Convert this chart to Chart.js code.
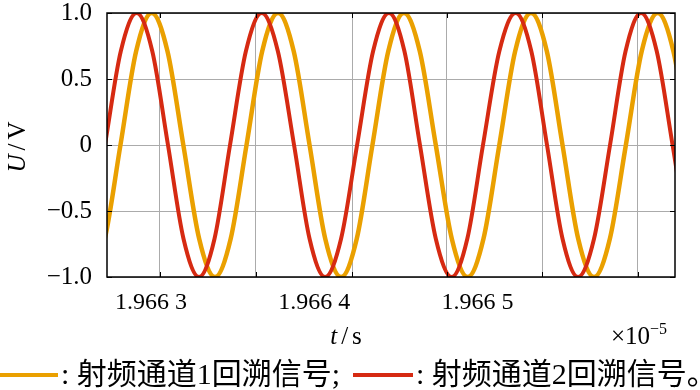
<!DOCTYPE html>
<html>
<head>
<meta charset="utf-8">
<script src="https://cdn.jsdelivr.net/npm/chart.js@4.4.1/dist/chart.umd.min.js"></script>
<style>
  html, body { margin: 0; padding: 0; background: #fff; }
  #wrap { position: relative; width: 700px; height: 390px; }
</style>
</head>
<body>
<div id="wrap"><canvas id="grafico" width="700" height="390"></canvas></div>
<script>
// time in ns after 19.663 us (axis shows x 10^-5 s)
const ch1Time = [-0.380, -0.283, -0.187, -0.091, 0.004, 0.101, 0.198, 0.295, 0.392, 0.488,
  0.585, 0.681, 0.778, 0.874, 0.971, 1.067, 1.164, 1.260, 1.356, 1.453,
  1.549, 1.646, 1.744, 1.842, 1.939, 2.036, 2.133, 2.230, 2.327, 2.424,
  2.520, 2.616, 2.713, 2.810, 2.908, 3.005, 3.103, 3.199, 3.296];
const ch1Volt = [-1, -0.71, 0, 0.71, 1, 0.71, 0, -0.71, -1, -0.71,
  0, 0.71, 1, 0.71, 0, -0.71, -1, -0.71, 0, 0.71,
  1, 0.71, 0, -0.71, -1, -0.71, 0, 0.71, 1, 0.71,
  0, -0.71, -1, -0.71, 0, 0.71, 1, 0.71, 0];

const ch2Time = [-0.478, -0.381, -0.282, -0.185, -0.088, 0.008, 0.104, 0.199, 0.294, 0.389,
  0.484, 0.581, 0.678, 0.777, 0.876, 0.971, 1.066, 1.164, 1.262, 1.360,
  1.457, 1.552, 1.647, 1.744, 1.841, 1.937, 2.033, 2.133, 2.233, 2.329,
  2.425, 2.520, 2.615, 2.713, 2.811, 2.906, 3.001, 3.097, 3.194, 3.290, 3.387];
const ch2Volt = [-1, -0.71, 0, 0.71, 1, 0.71, 0, -0.71, -1, -0.71,
  0, 0.71, 1, 0.71, 0, -0.71, -1, -0.71, 0, 0.71,
  1, 0.71, 0, -0.71, -1, -0.71, 0, 0.71, 1, 0.71,
  0, -0.71, -1, -0.71, 0, 0.71, 1, 0.71, 0, -0.71, -1];

const xMin = -0.2694;
const xMax = 3.2088;
const gridTimes = [0.0551, 0.643, 1.2309, 1.8126, 2.3944, 2.9822];
const xTickTimes = [0, 1, 2];
const xTickLabels = ['1.966 3', '1.966 4', '1.966 5'];
const yTicks = [-1, -0.5, 0, 0.5, 1];
const yTickLabels = ['\u22121.0', '\u22120.5', '0', '0.5', '1.0'];
const seriesNames = [': 射频通道1回溯信号;', ': 射频通道2回溯信号。'];

const corLaranja = 'rgb(234, 160, 0)';
const corVermelho = 'rgb(214, 42, 18)';
const serif = '"Liberation Serif", "Noto Sans CJK SC"';

function pontos(ts, vs) {
    return ts.map((t, i) => ({ x: t, y: vs[i] }));
}

function semPadding(axis) {
    axis.paddingTop = 0;
    axis.paddingBottom = 0;
    axis.paddingLeft = 0;
    axis.paddingRight = 0;
}

// moldura, marcas internas e textos
const extras = {
    id: 'extras',
    afterDatasetsDraw(chart) {
        const ctx = chart.ctx;
        const a = chart.chartArea;
        const sx = chart.scales.x, sy = chart.scales.y;
        ctx.save();
        ctx.strokeStyle = '#000';
        ctx.lineWidth = 1.5;
        ctx.strokeRect(a.left, a.top, a.right - a.left, a.bottom - a.top);
        ctx.lineWidth = 1;
        ctx.beginPath();
        gridTimes.forEach(t => {
            const px = Math.round(sx.getPixelForValue(t)) + 0.5;
            ctx.moveTo(px, a.top); ctx.lineTo(px, a.top + 5);
            ctx.moveTo(px, a.bottom); ctx.lineTo(px, a.bottom - 5);
        });
        yTicks.forEach(v => {
            const py = Math.round(sy.getPixelForValue(v)) + 0.5;
            ctx.moveTo(a.left, py); ctx.lineTo(a.left + 5, py);
            ctx.moveTo(a.right, py); ctx.lineTo(a.right - 5, py);
        });
        ctx.stroke();

        ctx.fillStyle = '#000';
        ctx.textBaseline = 'alphabetic';

        // U/V
        ctx.save();
        ctx.translate(25, 147);
        ctx.rotate(-Math.PI / 2);
        ctx.font = 'italic 25px ' + serif;
        const wU = ctx.measureText('U').width;
        ctx.font = '25px ' + serif;
        const wS = ctx.measureText('/').width, wV = ctx.measureText('V').width;
        const gap = 4;
        let x0 = -(wU + wS + wV + 2 * gap) / 2;
        ctx.font = 'italic 25px ' + serif;
        ctx.fillText('U', x0, 0);
        ctx.font = '25px ' + serif;
        ctx.fillText('/', x0 + wU + gap, 0);
        ctx.fillText('V', x0 + wU + wS + 2 * gap, 0);
        ctx.restore();

        // t/s
        ctx.font = 'italic 25px ' + serif;
        const wt = ctx.measureText('t').width;
        ctx.font = '25px ' + serif;
        const ws = ctx.measureText('s').width, wsl = ctx.measureText('/').width;
        x0 = 346 - (wt + wsl + ws + 2 * gap) / 2;
        ctx.font = 'italic 25px ' + serif;
        ctx.fillText('t', x0, 344);
        ctx.font = '25px ' + serif;
        ctx.fillText('/', x0 + wt + gap, 344);
        ctx.fillText('s', x0 + wt + wsl + 2 * gap, 344);

        // x10^-5
        ctx.font = '25px ' + serif;
        ctx.fillText('\u00d710', 611, 344);
        const w10 = ctx.measureText('\u00d710').width;
        ctx.font = '16px ' + serif;
        ctx.fillText('\u22125', 611 + w10, 334);

        // legenda
        ctx.lineWidth = 4;
        ctx.strokeStyle = corLaranja;
        ctx.beginPath(); ctx.moveTo(0, 375); ctx.lineTo(58, 375); ctx.stroke();
        ctx.strokeStyle = corVermelho;
        ctx.beginPath(); ctx.moveTo(353, 375); ctx.lineTo(413, 375); ctx.stroke();
        ctx.font = '30px ' + serif;
        ctx.textBaseline = 'middle';
        ctx.fillText(seriesNames[0], 61, 376);
        ctx.fillText(seriesNames[1], 416, 376);
        ctx.restore();
    }
};

const ctx = document.getElementById('grafico').getContext('2d');
const chartInstance = new Chart(ctx, {
    type: 'line',
    data: {
        datasets: [
            {
                label: seriesNames[0],
                data: pontos(ch1Time, ch1Volt),
                borderColor: corLaranja,
                borderWidth: 4.5,
                pointRadius: 0,
                cubicInterpolationMode: 'monotone',
                order: 2
            },
            {
                label: seriesNames[1],
                data: pontos(ch2Time, ch2Volt),
                borderColor: corVermelho,
                borderWidth: 4,
                pointRadius: 0,
                cubicInterpolationMode: 'monotone',
                order: 1
            }
        ]
    },
    options: {
        responsive: false,
        animation: false,
        devicePixelRatio: 1,
        layout: { padding: { top: 13, right: 25, left: 0, bottom: 0 } },
        plugins: { legend: { display: false }, tooltip: { enabled: false } },
        scales: {
            x: {
                type: 'linear',
                min: xMin,
                max: xMax,
                afterBuildTicks: axis => { axis.ticks = gridTimes.map(v => ({ value: v })); },
                afterFit: axis => { axis.height = 0; semPadding(axis); },
                ticks: { display: false },
                grid: { color: '#ababab', lineWidth: 1, drawTicks: false },
                border: { display: false }
            },
            xLabel: {
                type: 'linear',
                position: 'bottom',
                min: xMin,
                max: xMax,
                afterBuildTicks: axis => { axis.ticks = xTickTimes.map(v => ({ value: v })); },
                afterFit: axis => { axis.height = 113; semPadding(axis); },
                ticks: {
                    color: '#000',
                    font: { family: serif, size: 24 },
                    padding: 11,
                    maxRotation: 0,
                    autoSkip: false,
                    callback: value => xTickLabels[xTickTimes.indexOf(value)]
                },
                grid: { display: false, drawTicks: false },
                border: { display: false }
            },
            y: {
                min: -1,
                max: 1,
                afterBuildTicks: axis => { axis.ticks = yTicks.map(v => ({ value: v })); },
                afterFit: axis => { axis.width = 107; semPadding(axis); },
                ticks: {
                    color: '#000',
                    font: { family: serif, size: 25 },
                    padding: 15,
                    callback: value => yTickLabels[yTicks.indexOf(value)]
                },
                grid: { color: '#ababab', lineWidth: 1, drawTicks: false },
                border: { display: false }
            }
        }
    },
    plugins: [extras]
});
</script>
</body>
</html>
